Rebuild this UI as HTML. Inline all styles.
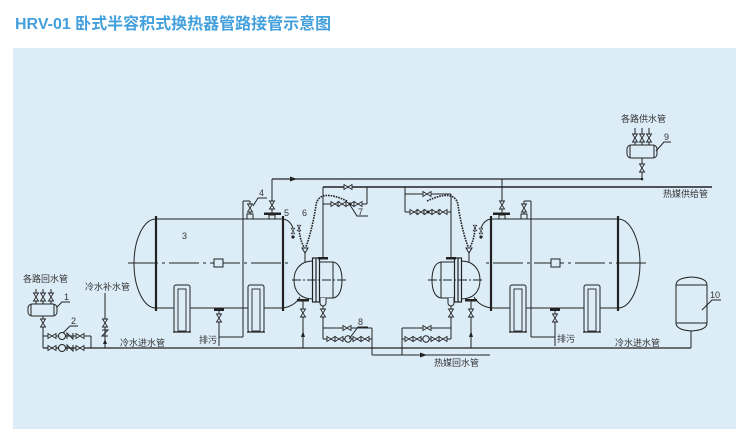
<!DOCTYPE html>
<html><head><meta charset="utf-8"><style>
html,body{margin:0;padding:0;background:#fff;}
svg{display:block;}
text{font-family:"Liberation Sans","Noto Sans CJK SC",sans-serif;}
</style></head><body>
<svg width="750" height="445" viewBox="0 0 750 445" xmlns="http://www.w3.org/2000/svg">
<rect x="0" y="0" width="750" height="445" fill="#fff"/>
<rect x="13" y="48" width="723" height="381" fill="#dcedf8"/>
<text x="15" y="29" font-size="16" font-weight="bold" fill="#43a0dc">HRV-01 卧式半容积式换热器管路接管示意图</text>
<defs>
<path id="vh" d="M-4,-2.5 L-4,2.5 L4,-2.5 L4,2.5 Z" fill="#dcedf8" stroke="#222" stroke-width="0.9"/>
<path id="vv" d="M-2.5,-4 L2.5,-4 L-2.5,4 L2.5,4 Z" fill="#dcedf8" stroke="#222" stroke-width="0.9"/>
<g id="sad">
<rect x="0" y="0" width="16" height="47" rx="2" fill="#dcedf8" stroke="#222" stroke-width="1"/>
<rect x="4" y="4" width="8" height="42" fill="none" stroke="#222" stroke-width="0.9"/>
<line x1="-1" y1="47" x2="17" y2="47" stroke="#222" stroke-width="1.2"/>
</g>
<g id="g1" stroke="#222" fill="none" stroke-width="1">
<!-- tank -->
<path d="M156,219 A22,44.5 0 0 0 156,308"/>
<line x1="156" y1="219" x2="283" y2="219"/>
<line x1="156" y1="308" x2="283" y2="308"/>
<line x1="156" y1="216" x2="156" y2="311" stroke-width="2.2"/>
<line x1="283" y1="216" x2="283" y2="311" stroke-width="2.2"/>
<line x1="128" y1="263" x2="290" y2="263" stroke-dasharray="30 4 3 4"/>
<rect x="214" y="259" width="9" height="8" fill="#dcedf8"/>
<use href="#sad" x="174" y="285"/>
<use href="#sad" x="248" y="285"/>
<!-- drain -->
<rect x="214" y="308" width="10" height="3" fill="#222" stroke="none"/>
<line x1="219" y1="311" x2="219" y2="346"/>
<use href="#vv" x="219" y="318"/>
<line x1="219" y1="337" x2="243" y2="337"/>
<!-- vent 4 -->
<line x1="243" y1="201" x2="243" y2="337"/>
<line x1="243" y1="201" x2="250" y2="201"/>
<line x1="250" y1="201" x2="250" y2="215"/>
<use href="#vv" x="250" y="208"/>
<rect x="247" y="214" width="6" height="5" fill="#dcedf8"/>
<!-- top nozzle -->
<line x1="272" y1="179" x2="272" y2="214"/>
<use href="#vv" x="272" y="205"/>
<rect x="264" y="212.5" width="17" height="2.5" fill="#222" stroke="none"/>
<rect x="269" y="215" width="6" height="4" fill="#dcedf8"/>
<!-- pipe 5 and connection -->
<path d="M283,219 Q290,220 293,228"/>
<use href="#vv" x="293" y="231" transform="translate(293 231) scale(0.7) translate(-293 -231)"/>
<circle cx="293" cy="237" r="1.6" fill="#222" stroke="none"/>
<path d="M283,308 Q295,306 300,297"/>
<!-- capillary -->
<path d="M347,201 C330,193 318,193 316,205 C314,220 309,240 305,249 M305,249 C301,242 299,235 299,225" stroke-width="1.6" stroke-dasharray="1.6 1"/>
<use href="#vv" x="299" y="228" transform="translate(299 228) scale(0.7) translate(-299 -228)"/>
<polygon points="302,248 308,248 305,253" fill="#dcedf8"/>
<line x1="305" y1="253" x2="305" y2="262"/>
<!-- HX -->
<path d="M313,261 C300,261 294,270 294,280 C294,291 300,299 313,299" fill="#dcedf8"/>
<rect x="312.5" y="258" width="7" height="44" fill="#dcedf8" stroke-width="1.2"/>
<line x1="316" y1="258" x2="316" y2="302" stroke-width="1.2"/>
<line x1="319.5" y1="262" x2="333" y2="262"/>
<line x1="319.5" y1="298" x2="333" y2="298"/>
<line x1="333" y1="262" x2="333" y2="298"/>
<path d="M333,262 C340,263 342,272 342,280 C342,288 340,297 333,298"/>
<line x1="292" y1="280" x2="347" y2="280" stroke-dasharray="9 2 2 2"/>
<rect x="318" y="257" width="10" height="2.5" fill="#222" stroke="none"/>
<rect x="297" y="299" width="12" height="2.5" fill="#222" stroke="none"/>
<path d="M320,298 L320,303 A3,3 0 0 0 326,303 L326,298" fill="#dcedf8"/>
<!-- inlet from main -->
<line x1="303" y1="301" x2="303" y2="348"/>
<use href="#vv" x="303" y="313"/>
<polygon points="303,331 301,337 305,337" fill="#222" stroke="none"/>
<!-- return rows 8 -->
<line x1="323" y1="306" x2="323" y2="339"/>
<use href="#vv" x="323" y="313"/>
<line x1="323" y1="328" x2="372" y2="328"/>
<use href="#vh" x="347" y="328"/>
<line x1="323" y1="339" x2="372" y2="339"/>
<use href="#vh" x="331" y="339"/>
<use href="#vh" x="339" y="339"/>
<circle cx="348" cy="339" r="3.2" fill="#dcedf8"/>
<use href="#vh" x="357" y="339"/>
<use href="#vh" x="365" y="339"/>
<line x1="372" y1="328" x2="372" y2="355"/>
</g>
</defs>

<use href="#g1"/>
<use href="#g1" transform="translate(774,0) scale(-1,1)"/>

<g stroke="#222" fill="none" stroke-width="1">
<!-- supply water line 179 -->
<line x1="272" y1="179" x2="642" y2="179" stroke-width="1.2"/>
<polygon points="297,179 290,176.5 290,181.5" fill="#222" stroke="none"/>
<circle cx="642" cy="179" r="1.3" fill="#222" stroke="none"/>
<!-- heat medium supply 187 -->
<line x1="323" y1="187" x2="712" y2="187" stroke-width="1.6"/>
<!-- left valve 7 -->
<line x1="323" y1="187" x2="323" y2="258"/>
<use href="#vh" x="348" y="187"/>
<line x1="367" y1="187" x2="367" y2="204"/>
<line x1="323" y1="204" x2="367" y2="204"/>
<use href="#vh" x="335" y="204"/>
<use href="#vh" x="342" y="204"/>
<use href="#vh" x="350" y="204"/>
<circle cx="350" cy="204" r="1.5" fill="#222" stroke="none"/>
<use href="#vh" x="358" y="204"/>
<polyline points="350,205 357,216 368,216"/>
<!-- right valve 7 -->
<line x1="405" y1="187" x2="405" y2="212"/>
<line x1="405" y1="194" x2="451" y2="194"/>
<use href="#vh" x="427" y="194"/>
<line x1="405" y1="212" x2="451" y2="212"/>
<use href="#vh" x="414" y="212"/>
<use href="#vh" x="421" y="212"/>
<use href="#vh" x="428" y="212"/>
<circle cx="428" cy="212" r="1.5" fill="#222" stroke="none"/>
<use href="#vh" x="436" y="212"/>
<use href="#vh" x="443" y="212"/>
<line x1="451" y1="194" x2="451" y2="258"/>
<!-- return line 355 -->
<line x1="372" y1="355" x2="490" y2="355"/>
<polygon points="427,355 420,352.5 420,357.5" fill="#222" stroke="none"/>
<!-- main cold water pipe -->
<line x1="43" y1="348" x2="691" y2="348" stroke-width="1.3"/>
<!-- expansion tank 10 -->
<path d="M676,285 Q676,278 691.5,277 Q707,278 707,285 L707,323 Q707,330 691.5,331 Q676,330 676,323 Z" fill="#dcedf8"/>
<line x1="676" y1="285" x2="707" y2="285"/>
<line x1="676" y1="323" x2="707" y2="323"/>
<line x1="691" y1="331" x2="691" y2="348"/>
<polyline points="702,310 712,300 721,300"/>
<!-- distributor 9 -->
<rect x="627" y="145" width="30" height="13" rx="4" fill="#dcedf8"/>
<line x1="630" y1="145" x2="630" y2="158"/>
<line x1="654" y1="145" x2="654" y2="158"/>
<line x1="635" y1="128" x2="635" y2="145"/>
<line x1="642" y1="128" x2="642" y2="145"/>
<line x1="649" y1="128" x2="649" y2="145"/>
<use href="#vv" x="635" y="138"/>
<use href="#vv" x="642" y="138"/>
<use href="#vv" x="649" y="138"/>
<line x1="642" y1="158" x2="642" y2="179"/>
<use href="#vv" x="642" y="168"/>
<polyline points="656,151 664,142 671,142"/>
<!-- distributor 1 -->
<rect x="28" y="304" width="29" height="12" rx="4" fill="#dcedf8"/>
<line x1="31" y1="304" x2="31" y2="316"/>
<line x1="54" y1="304" x2="54" y2="316"/>
<line x1="36" y1="289" x2="36" y2="304"/>
<line x1="43" y1="289" x2="43" y2="304"/>
<line x1="51" y1="289" x2="51" y2="304"/>
<use href="#vv" x="36" y="297"/>
<use href="#vv" x="43" y="297"/>
<use href="#vv" x="51" y="297"/>
<polyline points="57,307 62,302 70,302"/>
<line x1="43" y1="316" x2="43" y2="348"/>
<use href="#vv" x="43" y="323"/>
<!-- pump rows -->
<line x1="43" y1="336" x2="91" y2="336"/>
<line x1="91" y1="336" x2="91" y2="348"/>
<use href="#vh" x="52" y="336"/>
<circle cx="62" cy="336" r="3.5" fill="#dcedf8"/>
<polyline points="67,339 67,333 73,339 73,333"/>
<use href="#vh" x="80" y="336"/>
<use href="#vh" x="52" y="348"/>
<circle cx="62" cy="348" r="3.5" fill="#dcedf8"/>
<polyline points="67,351 67,345 73,351 73,345"/>
<use href="#vh" x="80" y="348"/>
<polyline points="63,333 70,326 78,326"/>
<!-- make-up water -->
<line x1="105" y1="293" x2="105" y2="348"/>
<use href="#vv" x="105" y="323"/>
<polyline points="102,330 108,330 102,336 108,336"/>
<polygon points="105,339 103,344 107,344" fill="#222" stroke="none"/>
<!-- label leaders -->
<polyline points="253,206 258,198 267,198"/>
<polyline points="349,339 358,327 368,327"/>
</g>

<g font-size="9" fill="#333">
<text x="23" y="282">各路回水管</text>
<text x="64" y="300">1</text>
<text x="71" y="324">2</text>
<text x="85" y="290">冷水补水管</text>
<text x="120" y="346">冷水进水管</text>
<text x="182" y="239">3</text>
<text x="259" y="196">4</text>
<text x="284" y="216">5</text>
<text x="302" y="216">6</text>
<text x="358" y="215">7</text>
<text x="358" y="325">8</text>
<text x="664" y="140">9</text>
<text x="710" y="298">10</text>
<text x="199" y="343">排污</text>
<text x="557" y="342">排污</text>
<text x="434" y="366">热媒回水管</text>
<text x="663" y="197">热媒供给管</text>
<text x="621" y="122">各路供水管</text>
<text x="615" y="346">冷水进水管</text>
</g>
</svg>
</body></html>
